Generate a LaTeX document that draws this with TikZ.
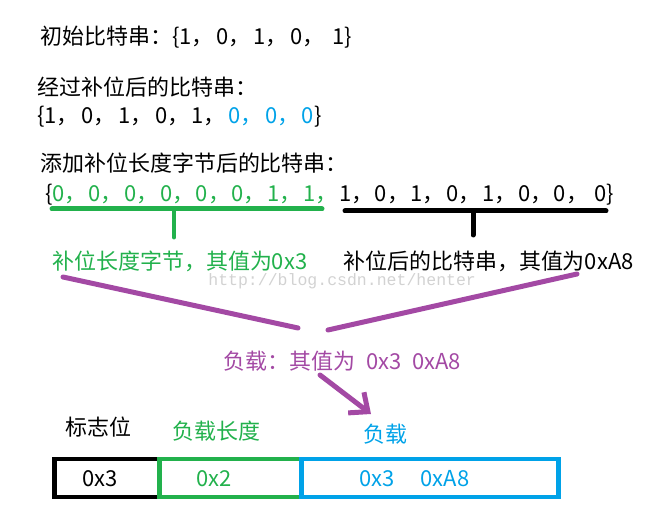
\documentclass[tikz,border=0pt]{standalone}
\usepackage{fontspec}
\setmainfont{Noto Sans CJK SC}
\newfontfamily\wmfont{Liberation Mono}
\usetikzlibrary{arrows.meta}
\definecolor{paintgreen}{RGB}{34,177,76}
\definecolor{paintblue}{RGB}{0,162,232}
\definecolor{paintpurple}{RGB}{163,73,164}
\newlength\bitw
\newcommand\bitc[2][black]{\makebox[\bitw][l]{\color{#1}#2，}}

\begin{document}
\begin{tikzpicture}[x=0.02cm,y=-0.02cm,
        txt/.style={anchor=base west,inner sep=0pt,font=\fontsize{12.5}{15}\selectfont},
        bar/.style={line width=0.1cm,line cap=round},
        fieldbox/.style={line width=0.09cm,minimum height=0.76cm,inner sep=0pt},
        link/.style={paintpurple,line width=0.1cm,line cap=round}]
                \useasboundingbox (0,0) rectangle (664,530);

                \node[txt,gray!35,font=\wmfont\fontsize{9.4}{11}\selectfont] (mark) at (208,286) {http://blog.csdn.net/henter};

                \node[txt] (init) at (40,45) {\setlength\bitw{0.74cm}初始比特串：\{\bitc1\bitc0\bitc1\bitc0 1\}};

                \node[txt] (padhead) at (37,96) {经过补位后的比特串：};
                \node[txt] (padbits) at (37,124) {\setlength\bitw{0.735cm}\{\bitc1\bitc0\bitc1\bitc0\bitc1\bitc[paintblue]0\bitc[paintblue]0\textcolor{paintblue}{0}\}};

                \node[txt] (fullhead) at (40,172) {添加补位长度字节后的比特串：};
                \node[txt] (fullbits) at (45,202) {\setlength\bitw{0.716cm}\{\bitc[paintgreen]0\bitc[paintgreen]0\bitc[paintgreen]0\bitc[paintgreen]0\bitc[paintgreen]0\bitc[paintgreen]0\bitc[paintgreen]1\bitc[paintgreen]1\bitc1\bitc0\bitc1\bitc0\bitc1\bitc0\bitc0 0\}};

                \coordinate (gl) at (52,209);
                \coordinate (gr) at (322,209);
                \coordinate (gm) at (174,209);
                \coordinate (gt) at (174,237);
                \draw[bar,paintgreen] (gl) -- (gr) (gm) -- (gt);

                \coordinate (kl) at (345,211);
                \coordinate (kr) at (606,211);
                \coordinate (km) at (473,211);
                \coordinate (kt) at (473,235);
                \draw[bar] (kl) -- (kr) (km) -- (kt);

                \node[txt,paintgreen] (lenlab) at (52,270) {补位长度字节，其值为0x3};
                \node[txt] (bitlab) at (343,270) {补位后的比特串，其值为0xA8};

                \coordinate (ls) at (63,277);
                \coordinate (le) at (298,328);
                \coordinate (rs) at (577,274);
                \coordinate (re) at (328,330);
                \draw[link] (ls) -- (le);
                \draw[link] (rs) -- (re);

                \node[txt,paintpurple] (paylab) at (223,370) {负载：其值为 \hspace{0.12cm}0x3 \hspace{0.12cm}0xA8};

                \coordinate (as) at (320,375);
                \coordinate (ae) at (371,414);
                \draw[link,-{Straight Barb[length=0.3cm,width=0.52cm]}] (as) -- (ae);

                \node[txt] (flaglab) at (65,436) {标志位};
                \node[txt,paintgreen] (lenname) at (172,440) {负载长度};
                \node[txt,paintblue] (payname) at (363,443) {负载};

                \node[fieldbox,draw=black,minimum width=2.09cm] (flagbox) at (106.75,478) {};
                \node[fieldbox,draw=paintgreen,minimum width=2.83cm] (lenbox) at (230.25,478) {};
                \node[fieldbox,draw=paintblue,minimum width=5.14cm] (paybox) at (430,478) {};

                \node[txt] (flagval) at (82,487) {0x3};
                \node[txt,paintgreen] (lenval) at (196,487) {0x2};
                \node[txt,paintblue] (payval) at (359,487) {0x3\hspace{0.52cm}0xA8};
\end{tikzpicture}
\end{document}
